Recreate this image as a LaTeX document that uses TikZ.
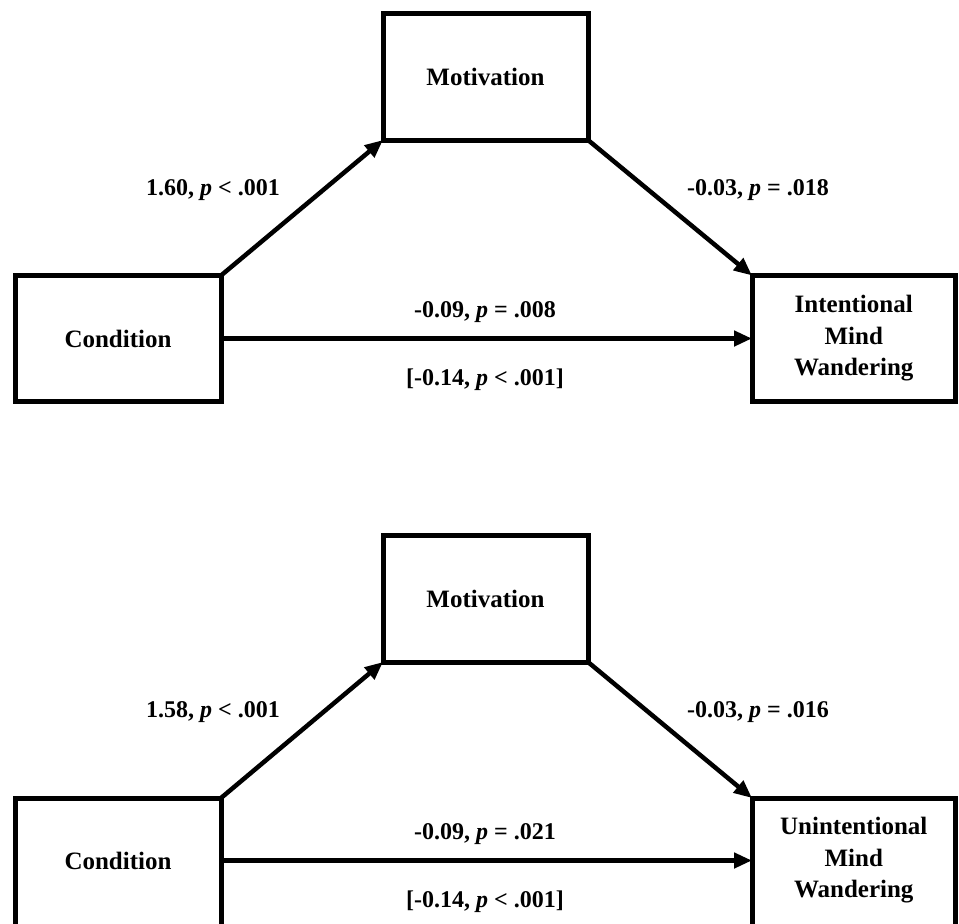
\documentclass[tikz,border=0pt]{standalone}
\usepackage{fontspec}
\setmainfont{Liberation Serif}
\usetikzlibrary{arrows.meta}
\begin{document}
\begin{tikzpicture}[x=1pt,y=-1pt,
 box/.style={draw, line width=5pt, outer sep=0pt, inner sep=0pt, align=center,
   font=\fontsize{25}{31.5}\selectfont\bfseries},
 lbl/.style={font=\fontsize{24}{28}\selectfont\bfseries, inner sep=0pt},
 arr/.style={line width=4.5pt, -{Triangle[length=18pt,width=15pt]}}]
\useasboundingbox (0,0) rectangle (959,924);
% top diagram
\node[box, minimum width=206pt, minimum height=126pt] (c1) at (118,338.5) {Condition};
\node[box, minimum width=205pt, minimum height=127pt] (m1) at (485.5,76.5) {Motivation};
\node[box, minimum width=203.5pt, minimum height=126pt] (y1) at (853.75,338.5) {Intentional\\Mind\\Wandering};
\draw[arr] (c1.north east) -- (m1.south west);
\draw[arr] (m1.south east) -- (y1.north west);
\draw[arr] (c1.east) -- (y1.west);
\node[lbl] (a1) at (213,190) {1.60, \textit{p} < .001};
\node[lbl] (b1) at (758,190) {-0.03, \textit{p} = .018};
\node[lbl] (d1) at (485,312) {-0.09, \textit{p} = .008};
\node[lbl] (t1) at (485,380) {[-0.14, \textit{p} < .001]};
% bottom diagram (lower edge runs past the page)
\node[box, minimum width=206pt, minimum height=132pt] (c2) at (118,864) {};
\node[box, minimum width=205pt, minimum height=127pt] (m2) at (485.5,598.5) {Motivation};
\node[box, minimum width=203.5pt, minimum height=132pt] (y2) at (853.75,864) {};
\node[box, draw=none] (c2t) at (118,860.5) {Condition};
\node[box, draw=none] (y2t) at (853.75,860.5) {Unintentional\\Mind\\Wandering};
\coordinate (c2m) at (c2.east |- c2t.center);
\coordinate (y2m) at (y2.west |- c2t.center);
\draw[arr] (c2.north east) -- (m2.south west);
\draw[arr] (m2.south east) -- (y2.north west);
\draw[arr] (c2m) -- (y2m);
\node[lbl] (a2) at (213,712) {1.58, \textit{p} < .001};
\node[lbl] (b2) at (758,712) {-0.03, \textit{p} = .016};
\node[lbl] (d2) at (485,834) {-0.09, \textit{p} = .021};
\node[lbl] (t2) at (485,902) {[-0.14, \textit{p} < .001]};
\end{tikzpicture}
\end{document}
